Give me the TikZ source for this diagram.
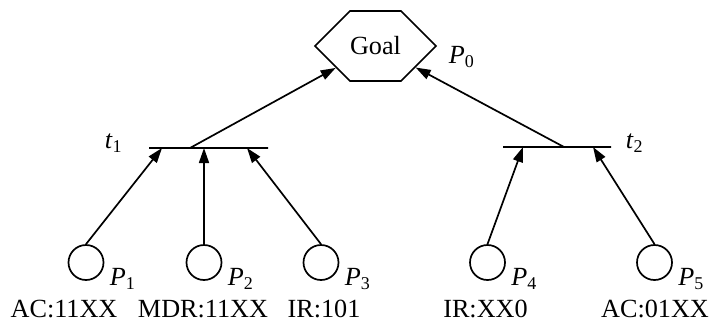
\documentclass[tikz,border=0pt]{standalone}
\usepackage{fontspec}
\setmainfont{Liberation Serif}
\usetikzlibrary{arrows.meta,positioning,calc,shapes.symbols}
\newcommand{\lbl}[2]{\textit{#1}\raisebox{-2pt}{\fontsize{9}{9}\selectfont #2}}

\begin{document}
\begin{tikzpicture}[x=0.5pt,y=-0.5pt,>={Triangle[length=7.5pt,width=5pt]},
  line width=0.85pt,font=\fontsize{13.1}{15}\selectfont,
  place/.style={draw,circle,minimum size=17.5pt,inner sep=0pt},
  bar/.style={draw,rectangle,minimum height=0pt,inner sep=0pt},
  tag/.style={anchor=base west,inner sep=0pt},
  cond/.style={anchor=base,inner sep=0pt}]
\useasboundingbox (0,0) rectangle (712,327);
% goal place
\node[draw,shape=signal,signal to=west and east,signal pointer angle=90,
  minimum width=60.5pt,minimum height=35pt,inner sep=0pt] (goal) at (375.5,46) {Goal};
\node[tag] (p0) at (448,63) {\lbl{P}{0}};
% transitions
\node[bar,minimum width=59.5pt] (t1) at (208.5,148) {};
\node[bar,minimum width=54pt] (t2) at (557,147) {};
\node[tag] (lt1) at (104,148) {\lbl{t}{1}};
\node[tag] (lt2) at (625,148) {\lbl{t}{2}};
% input places
\node[place] (p1) at (86,262.5) {};
\node[place] (p2) at (204,262.5) {};
\node[place] (p3) at (321,262.5) {};
\node[place] (p4) at (487.5,262.5) {};
\node[place] (p5) at (654.5,262.5) {};
\node[tag] (l1) at ($(p1)+(23,22.5)$) {\lbl{P}{1}};
\node[tag] (l2) at ($(p2)+(23,22.5)$) {\lbl{P}{2}};
\node[tag] (l3) at ($(p3)+(23,22.5)$) {\lbl{P}{3}};
\node[tag] (l4) at ($(p4)+(23,22.5)$) {\lbl{P}{4}};
\node[tag] (l5) at ($(p5)+(23,22.5)$) {\lbl{P}{5}};
\node[cond] (c1) at (64,317) {AC:11XX};
\node[cond] (c2) at (203,317) {MDR:11XX};
\node[cond] (c3) at (324,317) {IR:101};
\node[cond] (c4) at (485.5,317) {IR:XX0};
\node[cond] (c5) at (655,317) {AC:01XX};
% arcs
\draw[->] (p1.north)--($(t1)+(-46.5,0)$);
\draw[->] (p2.north)--($(t1)+(-4.5,0)$);
\draw[->] (p3.north)--($(t1)+(38.5,0)$);
\draw[->] (p4.north)--($(t2)+(-34,0)$);
\draw[->] (p5.north)--($(t2)+(36,0)$);
\draw[->] ($(t1)+(-18.5,0)$)--(goal);
\draw[->] ($(t2)+(7,0)$)--(goal);
\end{tikzpicture}
\end{document}
